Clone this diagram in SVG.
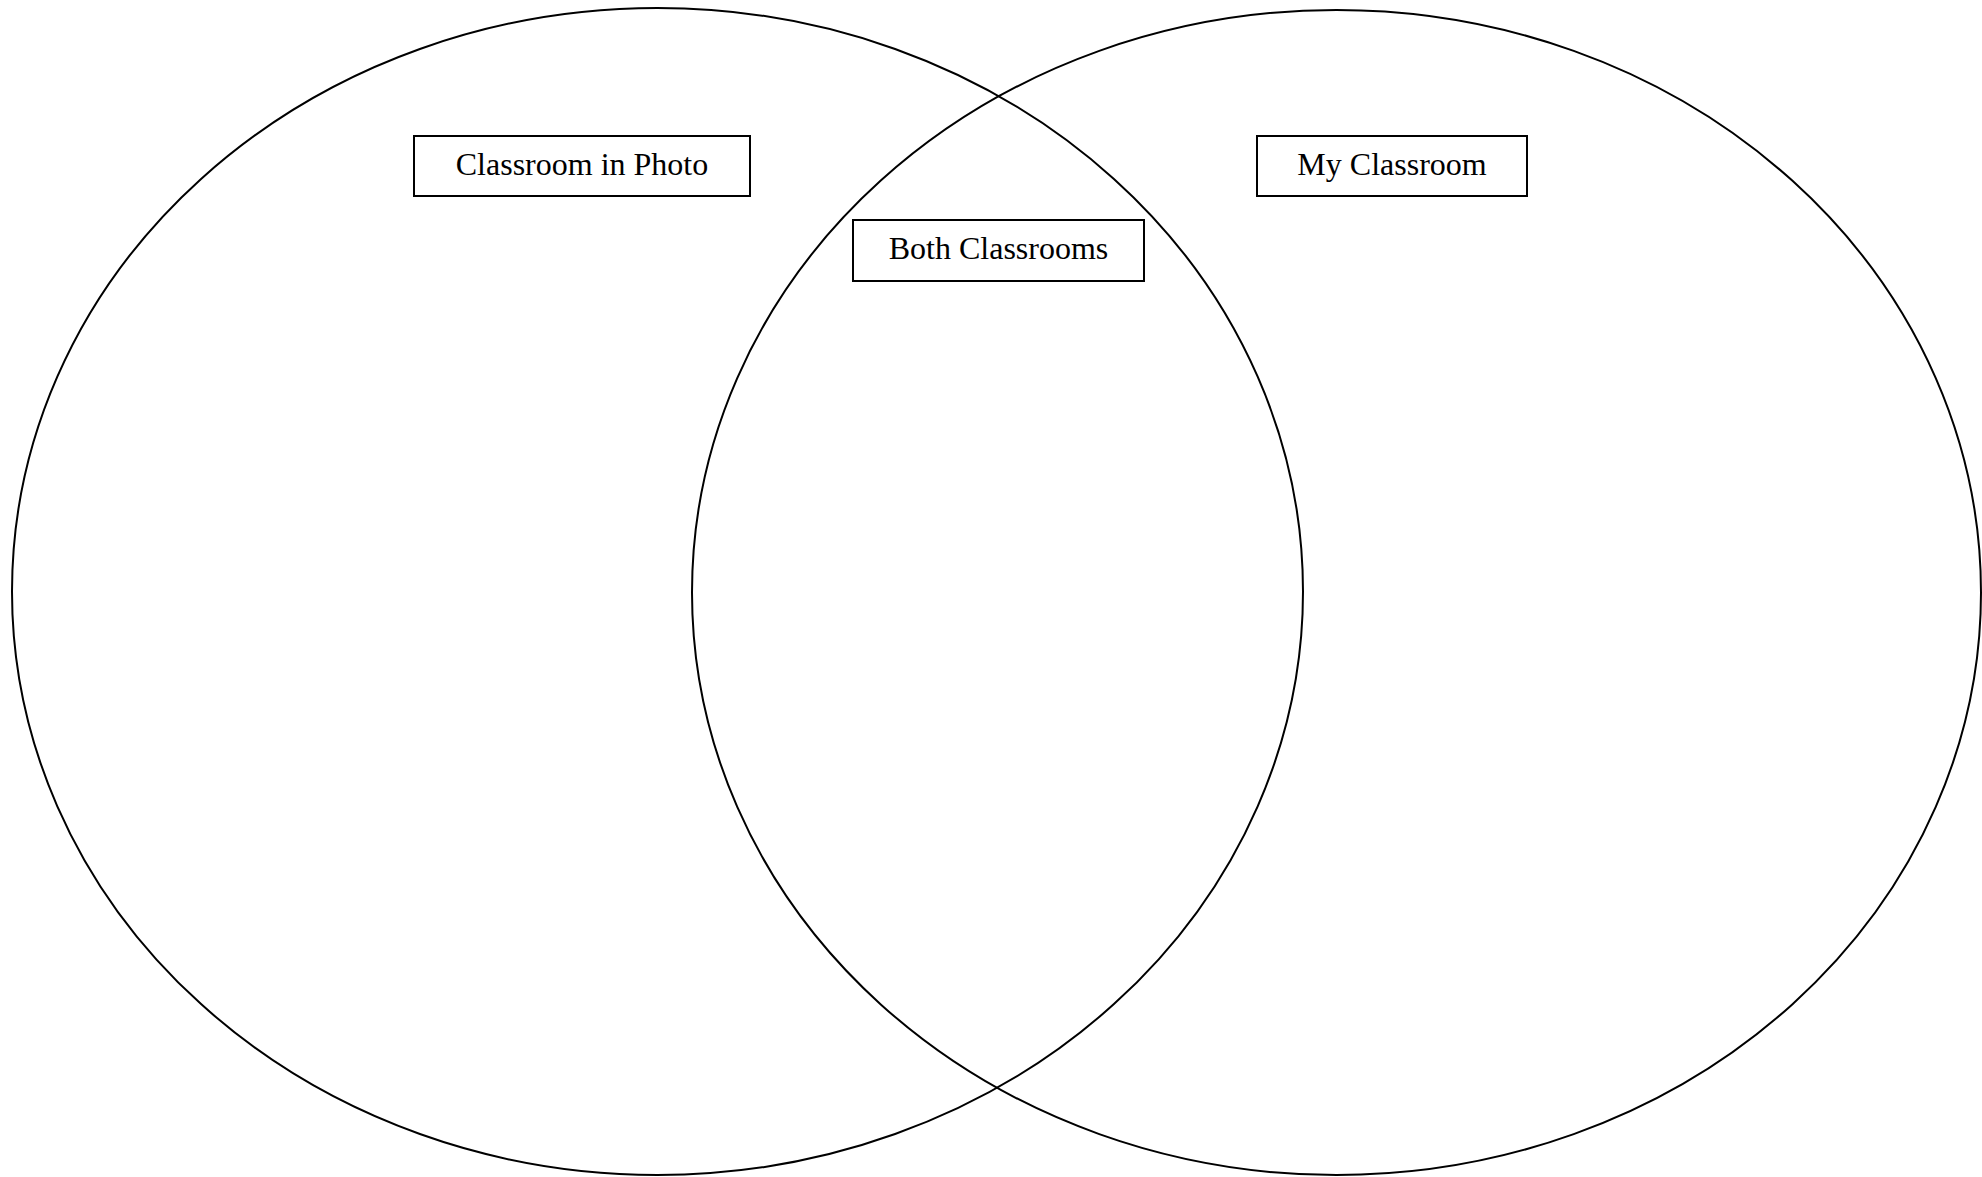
<svg xmlns="http://www.w3.org/2000/svg" width="1982" height="1177" viewBox="0 0 1982 1177">
<style>
.circle{fill:none;stroke:#000;stroke-width:2}
.box{fill:#fff;stroke:#000;stroke-width:2}
.lbl{font-family:"Liberation Serif",serif;font-size:32px;fill:#000;text-anchor:middle}
</style>
<rect width="1982" height="1177" fill="#fff"/>
<g id="connectors"></g>
<g id="left-set"><ellipse class="circle" cx="657.5" cy="591.5" rx="645.5" ry="583.5"/></g>
<g id="right-set"><ellipse class="circle" cx="1336.5" cy="592.5" rx="644.5" ry="582.5"/></g>
<g id="label-photo"><rect class="box" x="414" y="136" width="336" height="60"/><text class="lbl" x="582" y="175">Classroom in Photo</text></g>
<g id="label-both"><rect class="box" x="853" y="220" width="291" height="61"/><text class="lbl" x="998.5" y="259">Both Classrooms</text></g>
<g id="label-mine"><rect class="box" x="1257" y="136" width="270" height="60"/><text class="lbl" x="1392" y="175">My Classroom</text></g>
</svg>
